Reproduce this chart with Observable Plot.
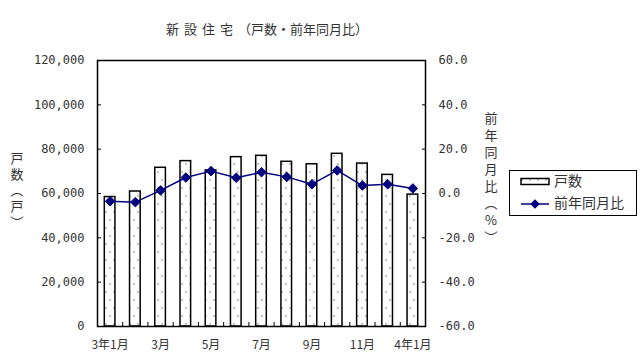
<!DOCTYPE html>
<html><head><meta charset="utf-8">
<script src="https://cdn.jsdelivr.net/npm/d3@7"></script>
<script src="https://cdn.jsdelivr.net/npm/@observablehq/plot@0.6"></script>
<style>body{margin:0;background:#fff}</style>
</head><body><div id="chart"></div>
<script>
const months = ["3年1月","2月","3月","4月","5月","6月","7月","8月","9月","10月","11月","12月","4年1月"];
const tickLabels = ["3年1月","3月","5月","7月","9月","11月","4年1月"];
const units = [58400, 60900, 71600, 74600, 70400, 76400, 77000, 74300, 73200, 77900, 73500, 68400, 59500];
const yoy = [-3.5, -3.9, 1.4, 7.2, 10.1, 7.1, 9.6, 7.5, 4.2, 10.4, 3.6, 4.2, 2.3];
const leftTicks = [0, 20000, 40000, 60000, 80000, 100000, 120000];
const rightTicks = [-60, -40, -20, 0, 20, 40, 60];
const yDomain = [0, 120000];
const pctDomain = [-60, 60];

const toY = p => (p - pctDomain[0]) / (pctDomain[1] - pctDomain[0]) * (yDomain[1] - yDomain[0]) + yDomain[0];
const fromY = y => (y - yDomain[0]) / (yDomain[1] - yDomain[0]) * (pctDomain[1] - pctDomain[0]) + pctDomain[0];

const data = months.map((label, i) => ({m: i + 1, label, units: units[i], yoy: yoy[i]}));
const boundaries = months.slice(1).map((_, i) => i + 1.5);
const labelMs = tickLabels.map(t => months.indexOf(t) + 1);

const JP = "'Noto Sans CJK JP', sans-serif";
const navy = "#000080";

const svg = Plot.plot({
  width: 640, height: 357,
  marginLeft: 97, marginRight: 215, marginTop: 60, marginBottom: 31,
  x: {domain: [0.5, months.length + 0.5], label: null},
  y: {domain: yDomain, label: null},
  style: {fontFamily: "'DejaVu Sans Mono', monospace", fontSize: "12px", color: "#333", background: "white"},
  marks: [
    Plot.rectY(data, {x1: d => d.m - 0.5, x2: d => d.m + 0.5, y: "units", insetLeft: 7.3, insetRight: 7.3,
      fill: "url(#dots)", stroke: "black", strokeWidth: 1.5}),
    Plot.line(data, {x: "m", y: d => toY(d.yoy), stroke: navy, strokeWidth: 1.5}),
    Plot.dot(data, {x: "m", y: d => toY(d.yoy), symbol: "diamond2", r: 4.3, fill: navy, stroke: navy, strokeWidth: 1}),
    Plot.frame({stroke: "black", strokeWidth: 1.5}),
    Plot.axisY({anchor: "left", ticks: leftTicks, tickSize: -4, tickFormat: () => "", stroke: "black", label: null}),
    Plot.axisY({anchor: "left", ticks: leftTicks, tickSize: 0, tickPadding: 13, tickFormat: d3.format(","), fill: "#333", label: null}),
    Plot.axisY({anchor: "right", ticks: rightTicks.map(toY), tickSize: -4, tickFormat: () => "", stroke: "black", label: null}),
    Plot.axisY({anchor: "right", ticks: rightTicks.map(toY), tickSize: 0, tickPadding: 13, tickFormat: d => fromY(d).toFixed(1), fill: "#333", label: null}),
    Plot.axisX({ticks: boundaries, tickSize: -4, tickFormat: () => "", stroke: "black", label: null}),
    Plot.axisX({ticks: labelMs, tickSize: 0, tickPadding: 14, tickFormat: m => months[m - 1], fontFamily: JP, fill: "#333", label: null})
  ]
});

const s = d3.select(svg);
const defs = s.insert("defs", ":first-child");
const pat = defs.append("pattern").attr("id", "dots").attr("patternUnits", "userSpaceOnUse")
  .attr("width", 8).attr("height", 16);
pat.append("rect").attr("width", 8).attr("height", 16).attr("fill", "white");
pat.append("circle").attr("cx", 2).attr("cy", 4).attr("r", 0.8).attr("fill", "#777");
pat.append("circle").attr("cx", 6).attr("cy", 12).attr("r", 0.8).attr("fill", "#777");

// title
const title = s.append("text").attr("x", 267).attr("y", 34).attr("text-anchor", "middle")
  .attr("font-family", JP).attr("font-size", 13).attr("fill", "#333");
title.append("tspan").attr("letter-spacing", 5).text("新設住宅");
title.append("tspan").text("（戸数・前年同月比）");

// axis titles
s.append("text").attr("x", 17).attr("y", 192).attr("text-anchor", "middle")
  .attr("font-family", JP).attr("font-size", 13).attr("letter-spacing", 3).attr("fill", "#333")
  .style("writing-mode", "vertical-rl").text("戸数（戸）");
s.append("text").attr("x", 491).attr("y", 180).attr("text-anchor", "middle")
  .attr("font-family", JP).attr("font-size", 13).attr("letter-spacing", 4).attr("fill", "#333")
  .style("writing-mode", "vertical-rl").style("text-orientation", "upright").text("前年同月比（%）");

// legend
const lg = s.append("g").attr("font-family", JP).attr("font-size", 14).attr("fill", "#333").attr("text-anchor", "start");
lg.append("rect").attr("x", 509.5).attr("y", 170.5).attr("width", 127).attr("height", 45)
  .attr("fill", "white").attr("stroke", "black");
lg.append("rect").attr("x", 521).attr("y", 178.5).attr("width", 28).attr("height", 6)
  .attr("fill", "url(#dots)").attr("stroke", "black").attr("stroke-width", 1.5);
lg.append("text").attr("x", 554).attr("y", 182).attr("dominant-baseline", "middle").attr("text-anchor", "start").text("戸数");
lg.append("line").attr("x1", 521).attr("x2", 549).attr("y1", 204).attr("y2", 204)
  .attr("stroke", navy).attr("stroke-width", 1.5);
lg.append("path").attr("d", d3.symbol(d3.symbolDiamond2, Math.PI * 4.3 * 4.3)()).attr("transform", "translate(535,204)")
  .attr("fill", navy);
lg.append("text").attr("x", 554).attr("y", 204).attr("dominant-baseline", "middle").attr("text-anchor", "start").text("前年同月比");

document.getElementById("chart").appendChild(svg);
</script>
</body></html>
